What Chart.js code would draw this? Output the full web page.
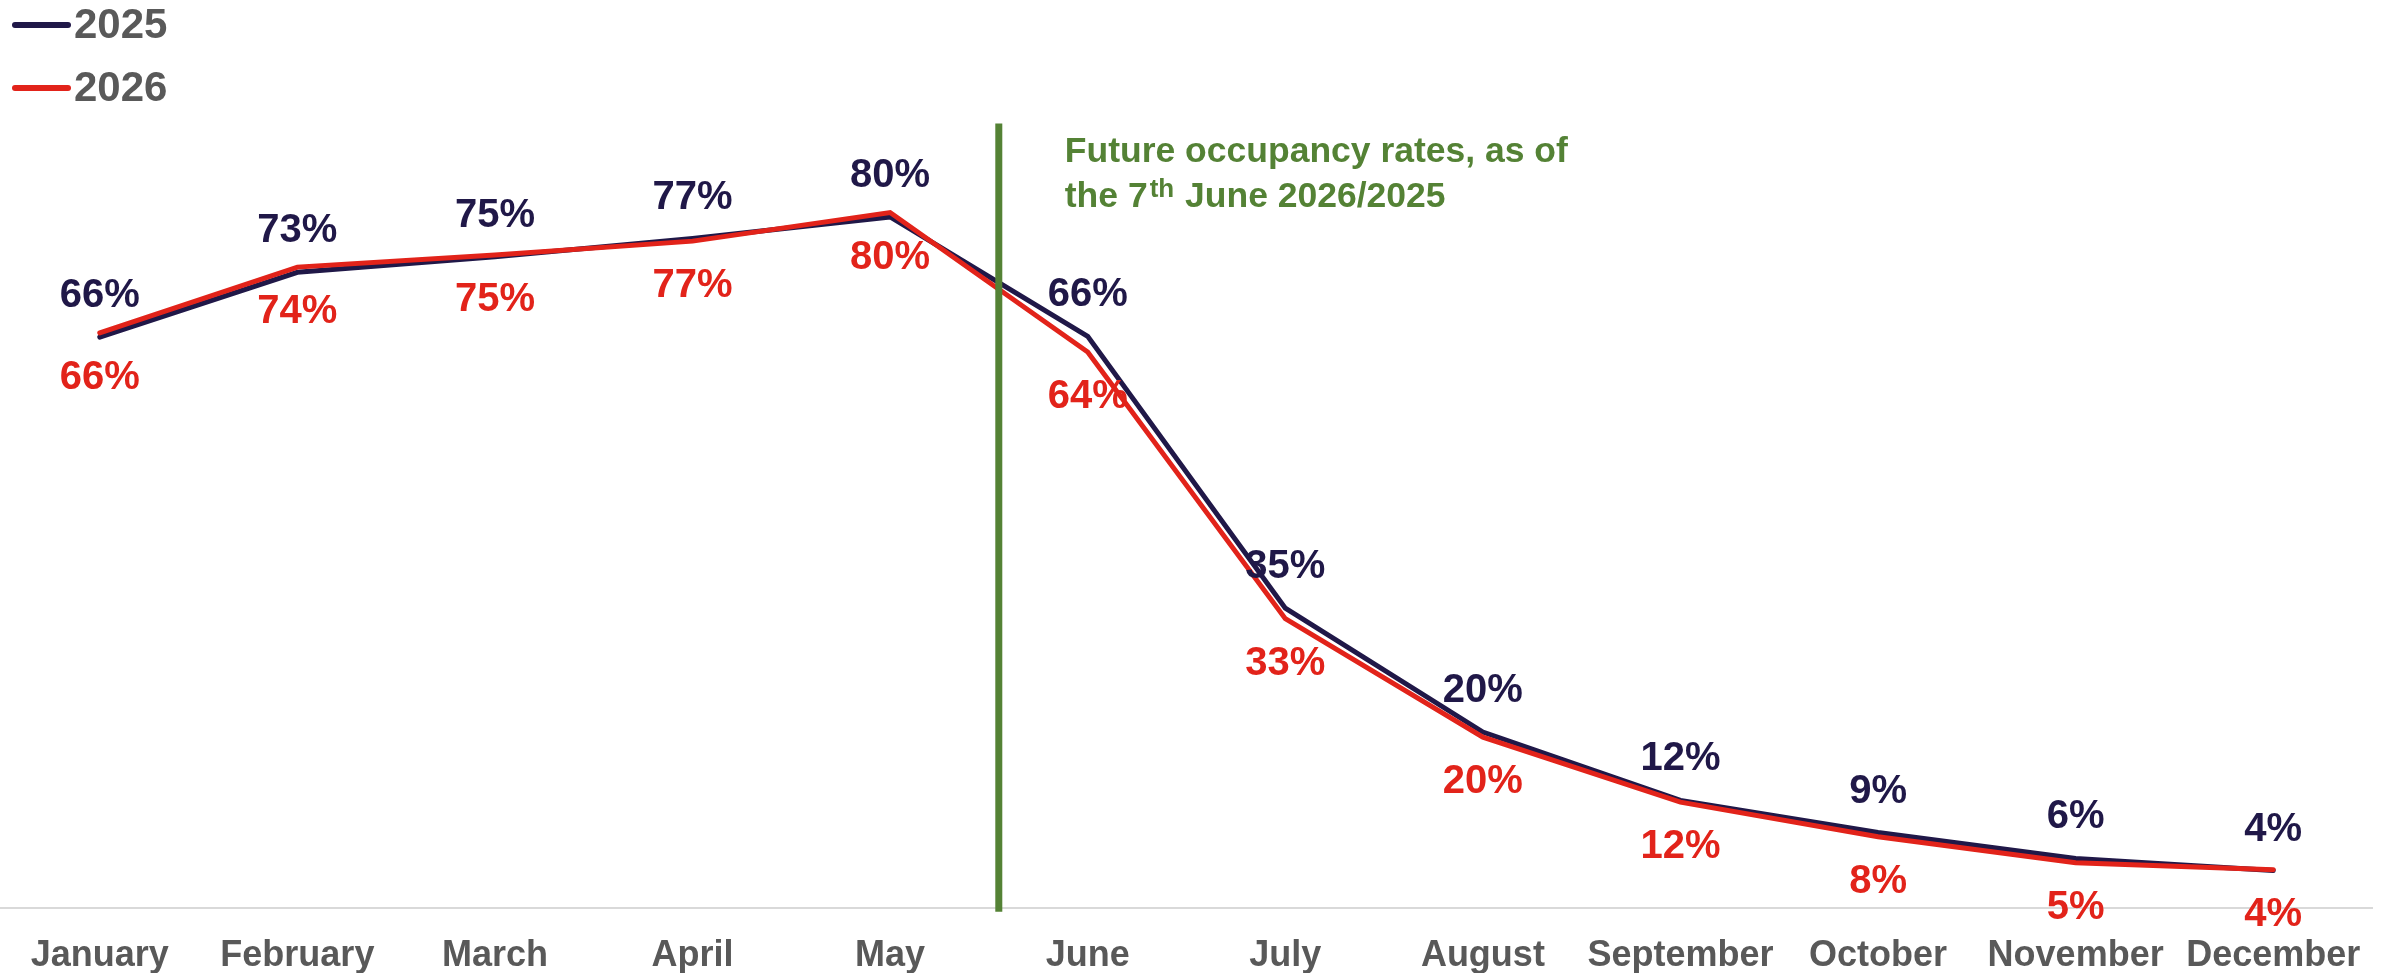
<!DOCTYPE html>
<html>
<head>
<meta charset="utf-8">
<script src="https://cdn.jsdelivr.net/npm/chart.js@4.4.1/dist/chart.umd.min.js"></script>
<style>
  html, body { margin: 0; padding: 0; background: #ffffff; }
  #wrap { position: relative; width: 2392px; height: 973px; }
</style>
</head>
<body>
<div id="wrap"><canvas id="c"></canvas></div>
<script>
// ---- data ----
const months = ['January','February','March','April','May','June','July','August','September','October','November','December'];
const occ2025 = [65.9, 73.4, 75.2, 77.3, 79.8, 66.0, 34.6, 20.3, 12.4, 8.7, 5.7, 4.3];
const occ2026 = [66.4, 74.0, 75.4, 77.0, 80.3, 64.2, 33.4, 19.7, 12.2, 8.2, 5.2, 4.4];
const seriesNames = ['2025', '2026'];
const markerPosition = 4.55;   // category position of the "as of" divider (between May and June)
const markerTopValue = 90.6;   // value where the divider starts
const annotationLines = ['Future occupancy rates, as of', ['the 7', 'th', 'June 2026/2025']];

const NAVY = '#201848';
const RED = '#E2231A';
const GREEN = '#548235';
const GREY = '#595959';
const FONT = "'Liberation Sans', Arial, sans-serif";

const labelPlugin = {
  id: 'valueLabels',
  afterDatasetsDraw(chart) {
    const ctx = chart.ctx;
    ctx.save();
    ctx.font = 'bold 40px ' + FONT;
    ctx.textAlign = 'center';
    ctx.textBaseline = 'middle';
    chart.data.datasets.forEach((ds, i) => {
      const meta = chart.getDatasetMeta(i);
      const above = ds.label === '2025';
      ctx.fillStyle = ds.borderColor;
      meta.data.forEach((pt, j) => {
        const txt = Math.round(ds.data[j]) + '%';
        ctx.fillText(txt, pt.x, above ? pt.y - 41 : pt.y + 45);
      });
    });
    ctx.restore();
  }
};

const markerPlugin = {
  id: 'marker',
  afterDatasetsDraw(chart) {
    const ctx = chart.ctx;
    const xs = chart.scales.x, ys = chart.scales.y;
    const x0 = xs.getPixelForValue(Math.floor(markerPosition));
    const x1 = xs.getPixelForValue(Math.floor(markerPosition) + 1);
    const x = x0 + (x1 - x0) * (markerPosition - Math.floor(markerPosition));
    const top = ys.getPixelForValue(markerTopValue);
    const bottom = chart.chartArea.bottom + 4;
    ctx.save();
    ctx.strokeStyle = GREEN;
    ctx.lineWidth = 7;
    ctx.beginPath();
    ctx.moveTo(x, top);
    ctx.lineTo(x, bottom);
    ctx.stroke();
    // annotation text
    ctx.fillStyle = GREEN;
    ctx.textAlign = 'left';
    ctx.textBaseline = 'alphabetic';
    const tx = x + 66;
    ctx.font = 'bold 35.5px ' + FONT;
    ctx.fillText(annotationLines[0], tx, top + 39);
    let cx = tx;
    const l2 = annotationLines[1];
    ctx.fillText(l2[0], cx, top + 84);
    cx += ctx.measureText(l2[0]).width + 2;
    ctx.font = 'bold 26px ' + FONT;
    ctx.fillText(l2[1], cx, top + 74);
    cx += ctx.measureText(l2[1]).width + 1;
    ctx.font = 'bold 35.5px ' + FONT;
    cx += ctx.measureText(' ').width;
    ctx.fillText(l2[2], cx, top + 84);
    ctx.restore();
  }
};

const legendPlugin = {
  id: 'customLegend',
  afterDraw(chart) {
    const ctx = chart.ctx;
    ctx.save();
    chart.data.datasets.forEach((ds, i) => {
      const y = 25 + i * 63;
      ctx.strokeStyle = ds.borderColor;
      ctx.lineWidth = 6;
      ctx.lineCap = 'round';
      ctx.beginPath();
      ctx.moveTo(15, y);
      ctx.lineTo(68, y);
      ctx.stroke();
      ctx.fillStyle = GREY;
      ctx.font = 'bold 42px ' + FONT;
      ctx.textAlign = 'left';
      ctx.textBaseline = 'middle';
      ctx.fillText(ds.label, 74, y + 1);
    });
    ctx.restore();
  }
};

new Chart(document.getElementById('c'), {
  type: 'line',
  data: {
    labels: months,
    datasets: [
      { label: seriesNames[0], data: occ2025, borderColor: NAVY, backgroundColor: NAVY, borderWidth: 5, pointRadius: 0, tension: 0, order: 1, borderCapStyle: 'round', borderJoinStyle: 'miter' },
      { label: seriesNames[1], data: occ2026, borderColor: RED, backgroundColor: RED, borderWidth: 5, pointRadius: 0, tension: 0, order: 0, borderCapStyle: 'round', borderJoinStyle: 'miter' }
    ]
  },
  options: {
    responsive: true,
    maintainAspectRatio: false,
    animation: false,
    devicePixelRatio: 1,
    layout: { padding: { top: 42, left: 1, right: 20, bottom: -32 } },
    plugins: { legend: { display: false }, tooltip: { enabled: false } },
    scales: {
      x: {
        offset: true,
        grid: { display: false, drawTicks: false },
        border: { display: true, color: '#D9D9D9', width: 2 },
        ticks: { color: GREY, font: { family: FONT, size: 36, weight: 'bold' }, padding: 27, maxRotation: 0, autoSkip: false }
      },
      y: {
        display: false,
        min: 0,
        max: 100
      }
    }
  },
  plugins: [labelPlugin, markerPlugin, legendPlugin]
});
</script>
</body>
</html>
